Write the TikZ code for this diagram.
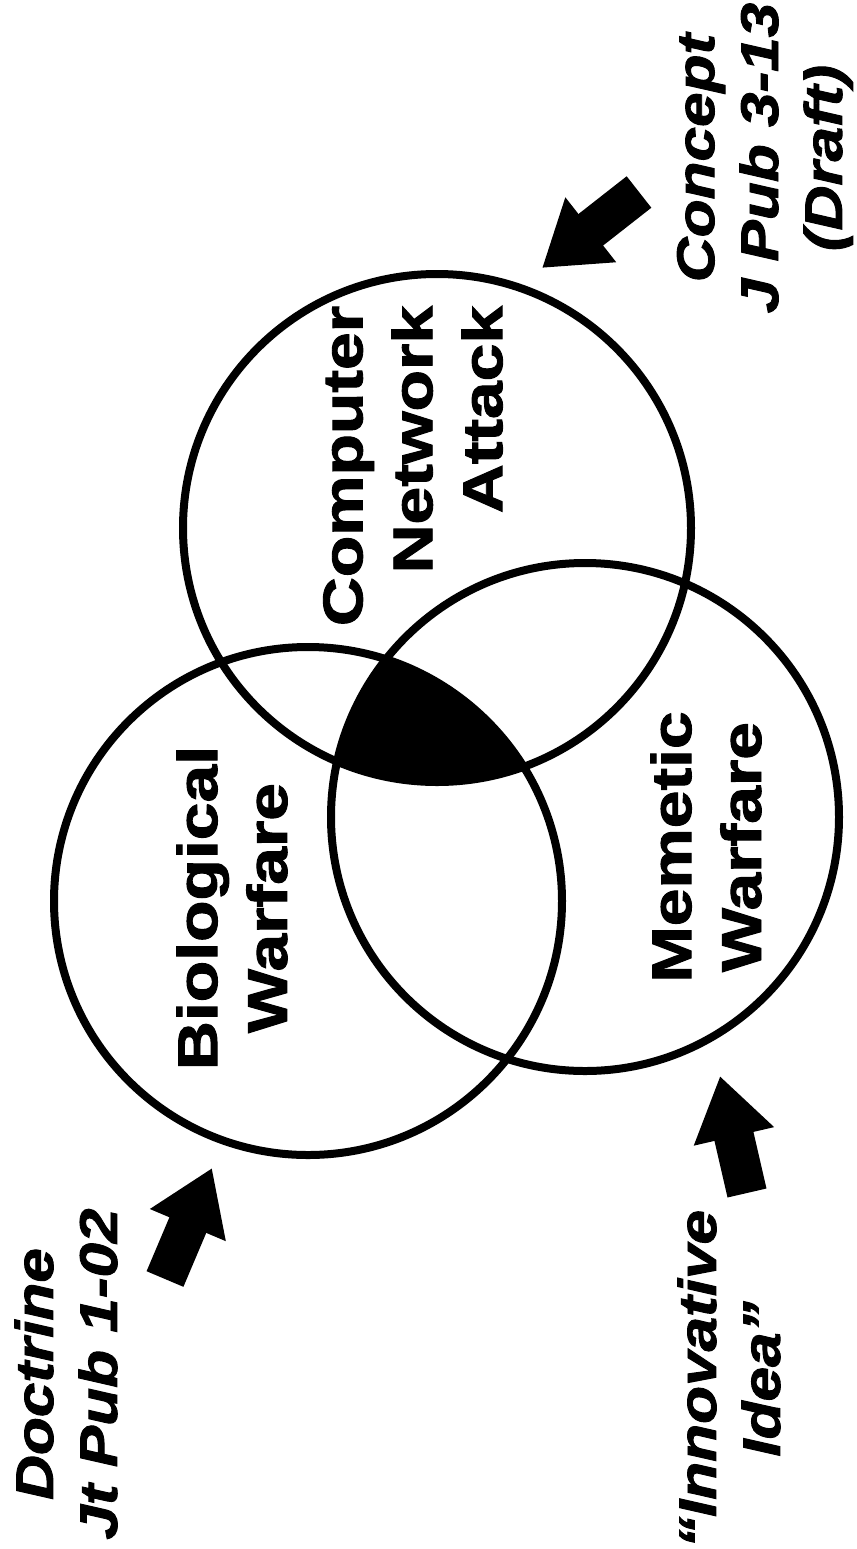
\documentclass[tikz,border=0pt]{standalone}
\usepackage{fontspec}
\setmainfont{Liberation Sans}
\newfontfamily\heavyfont{Liberation Sans Bold}[FakeBold=1.6]
\newfontfamily\heavyitfont{Liberation Sans Bold Italic}[FakeBold=1.6]
\usetikzlibrary{arrows.meta}

\begin{document}
\begin{tikzpicture}[
    x=0.02cm, y=0.02cm,
    set/.style={line width=0.16cm},
    setlabel/.style={rotate=90, xscale=1.21, align=center, inner sep=0pt, font=\fontsize{31.9}{39.8}\selectfont\heavyfont},
    source/.style={rotate=90, xscale=1.17, align=center, inner sep=0pt, font=\fontsize{30.2}{36.4}\selectfont\heavyitfont},
    push/.style={line width=0.8cm, -{Triangle[width=1.56cm, length=1.24cm]}}
]
\useasboundingbox (0,0) rectangle (857,-1549);
\coordinate (bio) at (308,-901);
\coordinate (cna) at (437,-528);
\coordinate (mem) at (585,-817);
\begin{scope}
    \clip (bio) circle (254);
    \clip (mem) circle (254);
    \fill (cna) circle (254);
\end{scope}
\draw[set] (bio) circle (254);
\draw[set] (cna) circle (254);
\draw[set] (mem) circle (254);

\node[setlabel] (biotext) at (232,-908) {Biological\\Warfare};
\node[setlabel, align=right] (cnatext) at (413,-466) {Computer\\Network\\Attack};
\node[setlabel] (memtext) at (706,-847) {Memetic\\Warfare};

\node[source] (doctrine) at (66,-1374) {Doctrine\\Jt Pub 1-02};
\node[source] (concept) at (765,-158) {Concept\\J Pub 3-13\\(Draft)};
\node[source] (idea) at (729,-1379) {“Innovative\\Idea”};

\coordinate (doctail) at (165,-1279);
\coordinate (doctip) at (212,-1168);
\coordinate (contail) at (639,-192);
\coordinate (contip) at (542,-268);
\coordinate (ideatail) at (747,-1193);
\coordinate (ideatip) at (720,-1076);
\draw[push] (doctail) -- (doctip);
\draw[push] (contail) -- (contip);
\draw[push] (ideatail) -- (ideatip);
\end{tikzpicture}
\end{document}
